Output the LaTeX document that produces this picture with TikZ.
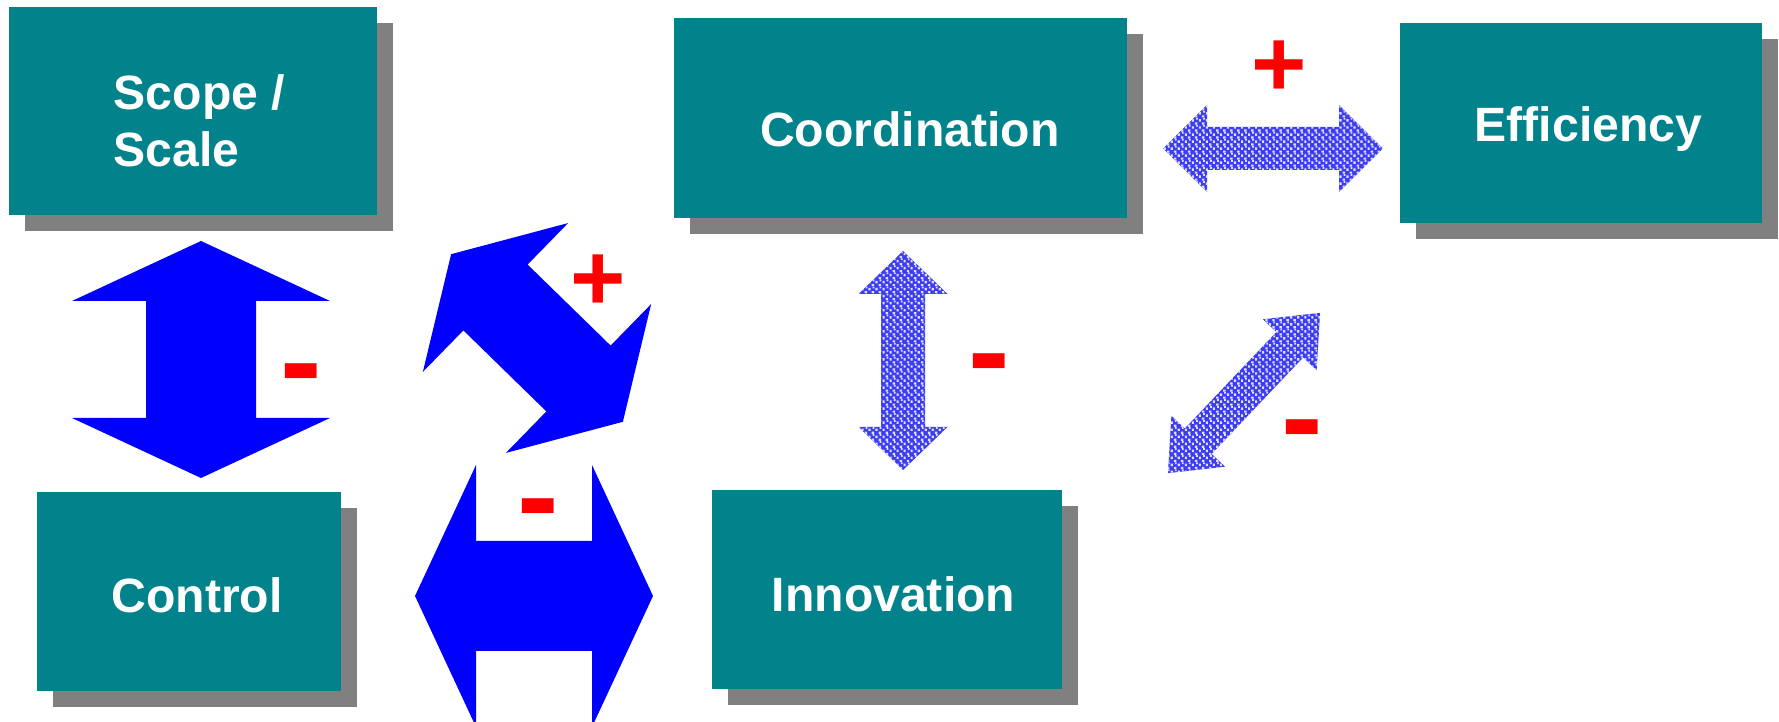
\documentclass[tikz,border=0pt]{standalone}
\usepackage{fontspec}
\setmainfont{Liberation Sans}
\usepackage{xcolor}
\usetikzlibrary{shadows, patterns}

\definecolor{boxteal}{RGB}{2,130,138}
\definecolor{shadowgray}{RGB}{128,128,128}
\definecolor{texblue}{RGB}{60,60,240}
\definecolor{speckwhite}{RGB}{225,225,255}

% grainy fill for the lighter arrows
\pgfdeclarepatternformonly{speckle}{\pgfqpoint{-0.1pt}{-0.1pt}}{\pgfqpoint{2.1pt}{2.1pt}}{\pgfqpoint{2pt}{2pt}}{%
  \pgfpathrectangle{\pgfqpoint{0pt}{0pt}}{\pgfqpoint{0.7pt}{0.6pt}}
  \pgfpathrectangle{\pgfqpoint{1.1pt}{0.8pt}}{\pgfqpoint{0.6pt}{0.7pt}}
  \pgfpathrectangle{\pgfqpoint{0.3pt}{1.4pt}}{\pgfqpoint{0.5pt}{0.5pt}}
  \pgfusepath{fill}}

% block arrow with a head at both ends:
% #1 centre, #2 angle, #3 half length, #4 head length, #5 head half width, #6 shaft half width, #7 style
\newcommand{\dblarrow}[7]{%
  \begin{scope}[shift={(#1)},rotate=#2]
    \fill[#7] (-#3,0) -- (-#3+#4,#5) -- (-#3+#4,#6) -- (#3-#4,#6) -- (#3-#4,#5) -- (#3,0)
      -- (#3-#4,-#5) -- (#3-#4,-#6) -- (-#3+#4,-#6) -- (-#3+#4,-#5) -- cycle;
  \end{scope}}

\tikzset{
  box/.style={rectangle, fill=boxteal, inner sep=0pt,
    general shadow={fill=shadowgray, shadow xshift=1.6mm, shadow yshift=-1.6mm}},
  boxtext/.style={text=white, inner sep=0pt, anchor=base, font=\fontsize{13.7}{16}\selectfont\bfseries},
  solidarrow/.style={fill=blue},
  texarrow/.style={fill=texblue, postaction={pattern=speckle, pattern color=speckwhite}},
  minus/.style={text=red, inner sep=0pt, anchor=north, font=\fontsize{35.5}{36}\selectfont\bfseries},
  plus/.style={text=red, inner sep=0pt, anchor=north, font=\fontsize{27}{27}\selectfont\bfseries}
}

\begin{document}
\begin{tikzpicture}[x=0.1mm, y=-0.1mm]
  \clip (0,0) rectangle (1779,722);

  % boxes
  \node[box, minimum width=36.8mm, minimum height=20.8mm] (scope) at (193,111) {};
  \node[box, minimum width=30.4mm, minimum height=19.9mm] (control) at (189,591.5) {};
  \node[box, minimum width=45.3mm, minimum height=20mm] (coord) at (900.5,118) {};
  \node[box, minimum width=36.2mm, minimum height=20mm] (eff) at (1581,123) {};
  \node[box, minimum width=35mm, minimum height=19.9mm] (innov) at (887,589.5) {};

  % box labels
  \node[boxtext, anchor=base west] (scopetext) at (113,110) {Scope /};
  \node[boxtext, anchor=base west] (scaletext) at (113,167) {Scale};
  \node[boxtext] (controltext) at (197,613) {Control};
  \node[boxtext] (coordtext) at (910,147) {Coordination};
  \node[boxtext] (efftext) at (1588.5,142) {Efficiency};
  \node[boxtext] (innovtext) at (893.5,612) {Innovation};

  % solid arrows on the left
  \dblarrow{201,359.5}{90}{118.5}{60}{129}{55}{solidarrow}
  \dblarrow{534,596}{0}{119}{61}{131}{55}{solidarrow}
  \dblarrow{537,338}{-44.3}{120}{62}{104}{46}{solidarrow}

  % grainy arrows on the right
  \dblarrow{903,360.5}{90}{109.5}{43}{44.5}{22}{texarrow}
  \dblarrow{1273,148.5}{0}{110}{44}{43.5}{21.5}{texarrow}
  \dblarrow{1244,393}{46.5}{110.5}{44}{37}{18.5}{texarrow}

  % signs
  \node[minus] (m1) at (301,363) {-};
  \node[minus] (m2) at (538,498) {-};
  \node[minus] (m3) at (989,353) {-};
  \node[minus] (m4) at (1302,419) {-};
  \node[plus] (p1) at (598.5,254) {+};
  \node[plus] (p2) at (1279,40) {+};
\end{tikzpicture}
\end{document}
